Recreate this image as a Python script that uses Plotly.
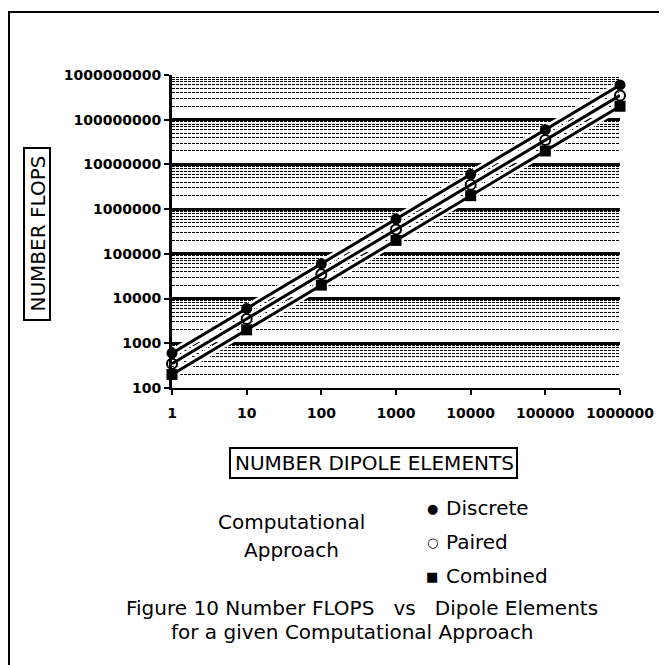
import plotly.graph_objects as go

# ---- data ----
elements = [1, 10, 100, 1000, 10000, 100000, 1000000]
discrete = [600, 6000, 60000, 600000, 6000000, 60000000, 600000000]
paired = [350, 3500, 35000, 350000, 3500000, 35000000, 350000000]
combined = [200, 2000, 20000, 200000, 2000000, 20000000, 200000000]
x_ticks = [1, 10, 100, 1000, 10000, 100000, 1000000]
x_tick_text = ["1", "10", "100", "1000", "10000", "100000", "1000000"]
y_ticks = [100, 1000, 10000, 100000, 1000000, 10000000, 100000000, 1000000000]
y_tick_text = ["100", "1000", "10000", "100000", "1000000", "10000000",
               "100000000", "1000000000"]

W, H = 667, 665
OFF = 8  # default page body margin
L, R, T, B = 172, 620, 75, 388  # plot area in page pixels

def px(x):
    return (x - L) / (R - L)

def py(y):
    return (B - y) / (B - T)

FONT = "DejaVu Sans"

fig = go.Figure()

series = [
    ("Discrete", discrete, dict(symbol="circle", size=11, color="black")),
    ("Paired", paired, dict(symbol="circle-open", size=10, color="black", line=dict(width=2))),
    ("Combined", combined, dict(symbol="square", size=11, color="black")),
]
for name, vals, mk in series:
    fig.add_trace(go.Scatter(x=elements, y=vals, mode="lines",
                             line=dict(color="white", width=8),
                             hoverinfo="skip", showlegend=False, cliponaxis=False))
for name, vals, mk in series:
    fig.add_trace(go.Scatter(x=elements, y=vals, mode="lines+markers", name=name,
                             line=dict(color="black", width=3),
                             marker=mk, showlegend=False, cliponaxis=False))

fig.update_xaxes(type="log", range=[0, 6], tickvals=x_ticks, ticktext=x_tick_text,
                 showgrid=False, zeroline=False, showline=True, linecolor="black",
                 linewidth=2, ticks="outside", ticklen=5, tickwidth=2, tickcolor="black",
                 ticklabelstandoff=6,
                 tickfont=dict(family=FONT, size=14, color="black", weight="bold"))
fig.update_yaxes(type="log", range=[2, 9], tickvals=y_ticks, ticktext=y_tick_text,
                 showgrid=True, gridcolor="black", gridwidth=3,
                 zeroline=False, showline=True, linecolor="black", linewidth=3,
                 ticks="outside", ticklen=5, tickwidth=2, tickcolor="black",
                 tickfont=dict(family=FONT, size=14, color="black", weight="bold"),
                 minor=dict(dtick="D1", showgrid=True, gridcolor="black",
                            griddash="3px,1px", gridwidth=1.4))

shapes = []
shapes.append(dict(type="rect", xref="paper", yref="paper",
                   x0=px(9), x1=px(720), y0=py(720), y1=py(12),
                   line=dict(color="black", width=2), fillcolor="rgba(0,0,0,0)"))
shapes.append(dict(type="rect", xref="paper", yref="paper",
                   x0=px(24), x1=px(50), y0=py(320), y1=py(148),
                   line=dict(color="black", width=2)))
shapes.append(dict(type="rect", xref="paper", yref="paper",
                   x0=px(230), x1=px(517), y0=py(478), y1=py(448),
                   line=dict(color="black", width=2)))

ann = []
def add_text(text, x, y, size, xanchor="center", angle=0):
    ann.append(dict(text=text, x=px(x), y=py(y), xref="paper", yref="paper",
                    textangle=angle, showarrow=False, xanchor=xanchor, yanchor="middle",
                    font=dict(family=FONT, size=size, color="black")))

add_text("NUMBER FLOPS", 37.5, 234, 20, angle=-90)
add_text("NUMBER DIPOLE ELEMENTS", 374, 463, 20)
add_text("Computational", 291, 522, 20)
add_text("Approach", 291, 550, 20)
legend_rows = [("\u25CF", "Discrete", 508), ("\u25CB", "Paired", 542), ("\u25A0", "Combined", 576)]
for sym, lab, yy in legend_rows:
    add_text(sym, 432, yy, 13)
    add_text(lab, 444, yy, 20, xanchor="left")
add_text("Figure 10 Number FLOPS \u00a0\u00a0vs \u00a0\u00a0Dipole Elements", 362, 608, 20)
add_text("for a given Computational Approach", 352, 632, 20)

fig.update_layout(width=W, height=H,
                  margin=dict(l=L - OFF, r=W - (R - OFF), t=T - OFF, b=H - (B - OFF)),
                  paper_bgcolor="white", plot_bgcolor="white",
                  shapes=shapes, annotations=ann, showlegend=False)

fig.write_html("out.html")
